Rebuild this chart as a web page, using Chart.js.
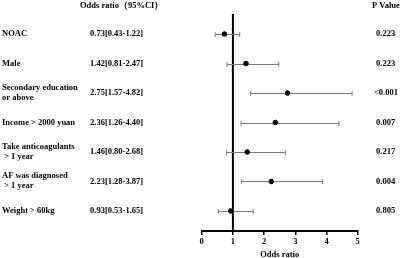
<!DOCTYPE html>
<html>
<head>
<meta charset="utf-8">
<script src="https://cdn.jsdelivr.net/npm/chart.js@4"></script>
<style>
html,body{margin:0;padding:0;background:#fff;}
#wrap{width:400px;height:258px;}
</style>
</head>
<body>
<div id="wrap"><canvas id="c" width="400" height="258"></canvas></div>
<script>
const labels = [["NOAC"], ["Male"], ["Secondary education", "or above"], ["Income > 2000 yuan"], ["Take anticoagulants", " > 1 year"], ["AF was diagnosed", " > 1 year"], ["Weight > 60kg"]];
const oddsRatio = [0.73, 1.42, 2.75, 2.36, 1.46, 2.23, 0.93];
const ciLow = [0.43, 0.81, 1.57, 1.26, 0.80, 1.28, 0.53];
const ciHigh = [1.22, 2.47, 4.82, 4.40, 2.68, 3.87, 1.65];
const orText = ["0.73[0.43-1.22]", "1.42[0.81-2.47]", "2.75[1.57-4.82]", "2.36[1.26-4.40]", "1.46[0.80-2.68]", "2.23[1.28-3.87]", "0.93[0.53-1.65]"];
const pValues = ["0.223", "0.223", "<0.001", "0.007", "0.217", "0.004", "0.805"];
const xTicks = [0, 1, 2, 3, 4, 5];

const FONT = "bold 8.5px 'Liberation Serif', 'Times New Roman', serif";

const forestPlugin = {
  id: 'forest',
  beforeDatasetsDraw(chart) {
    const ctx = chart.ctx, xs = chart.scales.x, ys = chart.scales.y, ca = chart.chartArea;
    ctx.save();
    ctx.strokeStyle = '#000';
    ctx.lineWidth = 2;
    ctx.beginPath();
    const x1 = xs.getPixelForValue(1);
    ctx.moveTo(x1, ca.top);
    ctx.lineTo(x1, ca.bottom);
    ctx.stroke();
    ctx.strokeStyle = '#7a7a7a';
    ctx.lineWidth = 1;
    for (let i = 0; i < oddsRatio.length; i++) {
      const y = Math.round(ys.getPixelForValue(i + 1)) + 0.5;
      const xl = xs.getPixelForValue(ciLow[i]);
      const xh = xs.getPixelForValue(ciHigh[i]);
      ctx.beginPath();
      ctx.moveTo(xl, y); ctx.lineTo(xh, y);
      ctx.moveTo(xl, y - 2.5); ctx.lineTo(xl, y + 2.5);
      ctx.moveTo(xh, y - 2.5); ctx.lineTo(xh, y + 2.5);
      ctx.stroke();
    }
    ctx.restore();
  },
  afterDraw(chart) {
    const ctx = chart.ctx, ys = chart.scales.y;
    ctx.save();
    ctx.fillStyle = '#000';
    ctx.font = FONT;
    ctx.textBaseline = 'middle';
    ctx.textAlign = 'left';
    ctx.fillText("Odds ratio（95%CI）", 80, 5.5);
    ctx.fillText("P Value", 372, 5.5);
    for (let i = 0; i < labels.length; i++) {
      const y = ys.getPixelForValue(i + 1);
      const lines = labels[i];
      if (lines.length === 1) {
        ctx.fillText(lines[0], 2, y);
      } else {
        ctx.fillText(lines[0], 2, y - 5.5);
        ctx.fillText(lines[1], 2, y + 4.5);
      }
      ctx.fillText(orText[i], 90, y);
      ctx.fillText(pValues[i], pValues[i].startsWith('<') ? 374 : 376, y);
    }
    ctx.restore();
  }
};

new Chart(document.getElementById('c'), {
  type: 'scatter',
  data: {
    datasets: [{
      data: oddsRatio.map((v, i) => ({x: v, y: i + 1})),
      backgroundColor: '#000',
      borderColor: '#000',
      pointRadius: 2.3,
      pointHoverRadius: 2.3
    }]
  },
  options: {
    responsive: false,
    devicePixelRatio: 1,
    animation: false,
    layout: {padding: {left: 201.7, right: 42.3, top: 14, bottom: 0}},
    plugins: {legend: {display: false}, tooltip: {enabled: false}},
    scales: {
      y: {
        type: 'linear', reverse: true, min: 0.32, max: 7.68, display: false
      },
      x: {
        type: 'linear', min: 0, max: 5,
        afterBuildTicks(scale) { scale.ticks = xTicks.map(v => ({value: v})); },
        afterFit(scale) { scale.height = 27; },
        grid: {display: true, drawOnChartArea: false, drawTicks: true, tickLength: 4, color: '#000', lineWidth: 1.5},
        border: {display: true, color: '#000', width: 2},
        ticks: {color: '#000', padding: 2, font: {family: "'Liberation Serif', serif", size: 8.5, weight: 'bold', lineHeight: 1.2}},
        title: {display: true, text: 'Odds ratio', color: '#000', padding: {top: 0, bottom: -2},
          font: {family: "'Liberation Serif', serif", size: 8.5, weight: 'bold', lineHeight: 1.2}}
      }
    }
  },
  plugins: [forestPlugin]
});
</script>
</body>
</html>
